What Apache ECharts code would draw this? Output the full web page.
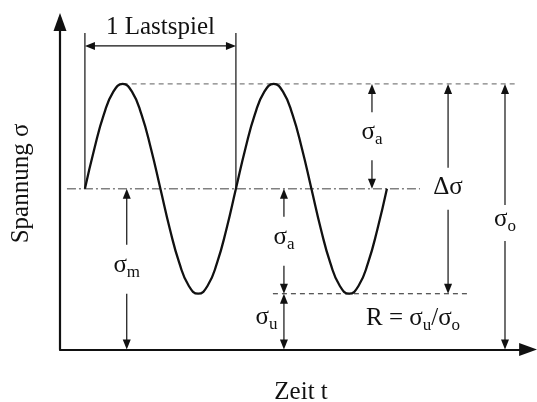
<!DOCTYPE html>
<html>
<head>
<meta charset="utf-8">
<script src="https://cdn.jsdelivr.net/npm/echarts@6/dist/echarts.min.js"></script>
<style>
  html, body { margin: 0; padding: 0; background: #fff; }
  #chart { width: 537px; height: 402px; }
</style>
</head>
<body>
<div id="chart"></div>
<script>
// Stress over time for a sinusoidal load cycle (two cycles shown)
const zeit = [0.165, 0.2275, 0.29, 0.3525, 0.415, 0.4775, 0.54, 0.6025, 0.665,
              0.7275, 0.79, 0.8525, 0.915, 0.9775, 1.04, 1.1025, 1.165,
              1.2275, 1.29, 1.3525, 1.415, 1.4775, 1.54, 1.6025, 1.665,
              1.7275, 1.79, 1.8525, 1.915, 1.9775, 2.04, 2.1025, 2.165];
const spannung = [60.5, 75.6, 88.4, 97.0, 100, 97.0, 88.4, 75.6, 60.5,
                  45.4, 32.6, 24.0, 21, 24.0, 32.6, 45.4, 60.5,
                  75.6, 88.4, 97.0, 100, 97.0, 88.4, 75.6, 60.5,
                  45.4, 32.6, 24.0, 21, 24.0, 32.6, 45.4, 60.5];

// Characteristic stress levels
const sigmaO = 100;   // Oberspannung
const sigmaU = 21;    // Unterspannung
const sigmaM = 60.5;  // Mittelspannung
const periode = 1;    // Dauer eines Lastspiels
const T0 = zeit[0];

// Axis titles and annotation texts
const achsenTitel = { x: 'Zeit t', y: 'Spannung σ' };
const texte = {
  lastspiel: '1 Lastspiel',
  sigmaA: '{s|σ}{sub|a}',
  deltaSigma: '{s|Δσ}',
  sigmaO: '{s|σ}{sub|o}',
  sigmaM: '{s|σ}{sub|m}',
  sigmaU: '{s|σ}{sub|u}',
  verhaeltnis: '{s|R = σ}{sub|u}{s|/σ}{sub|o}'
};

const FONT = '"Liberation Serif", "Times New Roman", serif';
const GROESSE = 25;
const rich = {
  s: { fontSize: GROESSE, fontFamily: FONT, fill: '#111' },
  sub: { fontSize: 17, fontFamily: FONT, fill: '#111', padding: [14, 0, 0, 0] }
};

// Annotation layer: reference lines, dimension arrows and labels (data coordinates)
const elemente = [
  { art: 'linie', von: [T0 + periode / 4, sigmaO], bis: [3.013, sigmaO], farbe: '#808080', breite: 1.4, strich: [5, 4] },
  { art: 'linie', von: [0.046, sigmaM], bis: [2.384, sigmaM], farbe: '#808080', breite: 1.4, strich: [9, 3, 2, 3] },
  { art: 'linie', von: [1.41, sigmaU], bis: [2.715, sigmaU], farbe: '#222', breite: 1.1, strich: [5, 4] },
  { art: 'linie', von: [T0, sigmaM], bis: [T0, 119.2], farbe: '#111', breite: 1.2 },
  { art: 'linie', von: [T0 + periode, sigmaM], bis: [T0 + periode, 119.2], farbe: '#111', breite: 1.2 },
  { art: 'mass', von: [T0, 114.3], bis: [T0 + periode, 114.3] },
  { art: 'text', bei: [T0 + periode / 2, 121.4], text: texte.lastspiel },
  { art: 'mass', von: [2.066, sigmaO], bis: [2.066, sigmaM], luecke: 24, text: texte.sigmaA, dy: -3.5 },
  { art: 'mass', von: [2.57, sigmaO], bis: [2.57, sigmaU], luecke: 21, text: texte.deltaSigma, dy: -1 },
  { art: 'mass', von: [2.947, sigmaO], bis: [2.947, 0], mitte: [2.947, 47.6], luecke: 18, text: texte.sigmaO, dy: -3.5 },
  { art: 'mass', von: [0.442, sigmaM], bis: [0.442, 0], luecke: 24.5, text: texte.sigmaM, dy: -3.5 },
  { art: 'mass', von: [1.483, sigmaM], bis: [1.483, sigmaU], luecke: 24.5, text: texte.sigmaA, dy: -3.5 },
  { art: 'mass', von: [1.483, sigmaU], bis: [1.483, 0], luecke: 0, text: texte.sigmaU, dx: -17.5, dy: -4 },
  { art: 'text', bei: [2.338, sigmaU / 2], text: texte.verhaeltnis, dy: -3.5 }
];

const PFEIL_LAENGE = 10;
const PFEIL_HALB = 4;

function pfeilspitze(tip, ux, uy) {
  // ux, uy: unit vector pointing toward the tip
  const bx = tip[0] - ux * PFEIL_LAENGE;
  const by = tip[1] - uy * PFEIL_LAENGE;
  return {
    type: 'polygon',
    shape: { points: [tip, [bx - uy * PFEIL_HALB, by + ux * PFEIL_HALB], [bx + uy * PFEIL_HALB, by - ux * PFEIL_HALB]] },
    style: { fill: '#111' }
  };
}

function strecke(p, q) {
  return { type: 'line', shape: { x1: p[0], y1: p[1], x2: q[0], y2: q[1] }, style: { stroke: '#111', lineWidth: 1.2 } };
}

function beschriftung(pos, text) {
  return {
    type: 'text', x: pos[0], y: pos[1],
    style: { text: text, rich: rich, fontSize: GROESSE, fontFamily: FONT, fill: '#111', align: 'center', verticalAlign: 'middle' }
  };
}

function renderItem(params, api) {
  const e = elemente[params.dataIndex];
  const kinder = [];
  if (e.art === 'linie') {
    const a = api.coord(e.von), b = api.coord(e.bis);
    kinder.push({
      type: 'line', shape: { x1: a[0], y1: a[1], x2: b[0], y2: b[1] },
      style: { stroke: e.farbe, lineWidth: e.breite, lineDash: e.strich || null }
    });
  } else if (e.art === 'text') {
    const p = api.coord(e.bei);
    kinder.push(beschriftung([p[0] + (e.dx || 0), p[1] + (e.dy || 0)], e.text));
  } else if (e.art === 'mass') {
    const a = api.coord(e.von), b = api.coord(e.bis);
    const L = Math.hypot(b[0] - a[0], b[1] - a[1]);
    const ux = (b[0] - a[0]) / L, uy = (b[1] - a[1]) / L;
    const c = e.mitte ? api.coord(e.mitte) : [(a[0] + b[0]) / 2, (a[1] + b[1]) / 2];
    const a2 = [a[0] + ux * PFEIL_LAENGE * 0.5, a[1] + uy * PFEIL_LAENGE * 0.5];
    const b2 = [b[0] - ux * PFEIL_LAENGE * 0.5, b[1] - uy * PFEIL_LAENGE * 0.5];
    if (e.luecke) {
      kinder.push(strecke(a2, [c[0] - ux * e.luecke, c[1] - uy * e.luecke]));
      kinder.push(strecke([c[0] + ux * e.luecke, c[1] + uy * e.luecke], b2));
    } else {
      kinder.push(strecke(a2, b2));
    }
    kinder.push(pfeilspitze(a, -ux, -uy));
    kinder.push(pfeilspitze(b, ux, uy));
    if (e.text) {
      kinder.push(beschriftung([c[0] + (e.dx || 0), c[1] + (e.dy || 0)], e.text));
    }
  }
  return { type: 'group', children: kinder };
}

const chart = echarts.init(document.getElementById('chart'), null, { renderer: 'canvas' });

const achse = {
  type: 'value',
  axisTick: { show: false },
  axisLabel: { show: false },
  splitLine: { show: false },
  nameTextStyle: { fontFamily: FONT, fontSize: GROESSE, color: '#111' },
  nameLocation: 'middle'
};

chart.setOption({
  animation: false,
  backgroundColor: '#fff',
  grid: { left: 60, right: 8.9, top: 17.5, bottom: 52.5, containLabel: false, outerBoundsMode: 'none' },
  xAxis: Object.assign({}, achse, {
    min: 0, max: 3.1,
    name: achsenTitel.x,
    nameGap: 30,
    nameTextStyle: Object.assign({}, achse.nameTextStyle, { padding: [0, 0, 0, 14] }),
    axisLine: { show: true, symbol: ['none', 'triangle'], symbolSize: [13, 18], symbolOffset: [0, 0],
                lineStyle: { color: '#111', width: 2.2 } }
  }),
  yAxis: Object.assign({}, achse, {
    min: 0, max: 125,
    name: achsenTitel.y,
    nameRotate: 90,
    nameGap: 26,
    axisLine: { show: true, symbol: ['none', 'triangle'], symbolSize: [13, 18], symbolOffset: [0, -4.5],
                lineStyle: { color: '#111', width: 2.2 } }
  }),
  series: [
    {
      type: 'custom',
      renderItem: renderItem,
      clip: false,
      silent: true,
      z: 1,
      data: elemente.map((e, i) => [i, 0])
    },
    {
      type: 'line',
      data: zeit.map((t, i) => [t, spannung[i]]),
      smooth: true,
      showSymbol: false,
      silent: true,
      z: 3,
      lineStyle: { color: '#111', width: 2.3 }
    }
  ]
});
</script>
</body>
</html>
